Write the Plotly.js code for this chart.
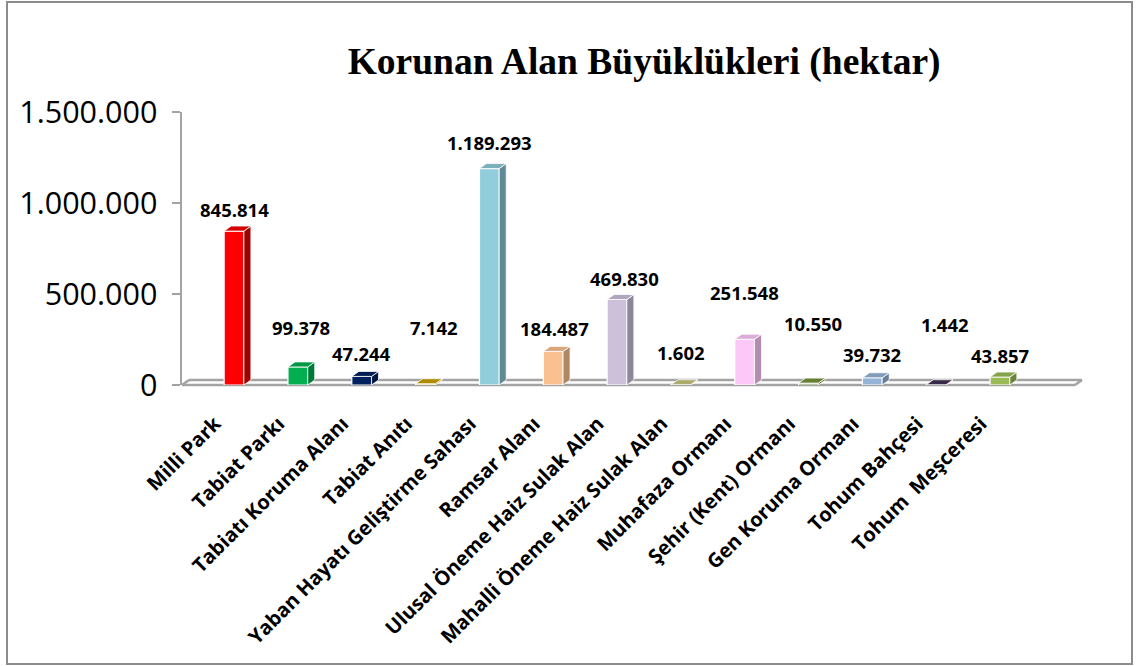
<!DOCTYPE html>
<html>
<head>
<meta charset="utf-8">
<script src="https://cdn.plot.ly/plotly-3.0.1.min.js"></script>
<style>
  html, body { margin: 0; padding: 0; background: #ffffff; }
  #wrap { position: relative; width: 1139px; height: 666px; }
  #chart { width: 1139px; height: 666px; }
  #frame { position: absolute; left: 6px; top: 1px; width: 1123px; height: 660px;
           border: 2px solid #8c8c8c; pointer-events: none; }
</style>
</head>
<body>
<div id="wrap"><div id="chart"></div><div id="frame"></div></div>
<script>
const categories = ["Milli Park", "Tabiat Parkı", "Tabiatı Koruma Alanı", "Tabiat Anıtı",
  "Yaban Hayatı Geliştirme Sahası", "Ramsar Alanı", "Ulusal Öneme Haiz Sulak Alan",
  "Mahalli Öneme Haiz Sulak Alan", "Muhafaza Ormanı", "Şehir (Kent) Ormanı",
  "Gen Koruma Ormanı", "Tohum Bahçesi", "Tohum  Meşceresi"];
const values = [845814, 99378, 47244, 7142, 1189293, 184487, 469830, 1602, 251548, 10550, 39732, 1442, 43857];
const yTickValues = [0, 500000, 1000000, 1500000];

// styles
const frontColors = ["#ff0000", "#00b050", "#002060", "#c9a200", "#92cddc", "#fac090", "#ccc0da",
  "#c6c77c", "#fcc8f7", "#77933c", "#95b3d7", "#403151", "#9bbb59"];
const sideColors = ["#a00000", "#007a37", "#001540", "#8c7000", "#5f8a95", "#b08763", "#8e8699",
  "#8a8b57", "#b38caf", "#536728", "#687d96", "#2c2238", "#6c833e"];
const labelYShift = [22, 39, 23, 56, 26, 23, 21, 32, 47, 60, 23, 60, 22];
const labelXShift = [0, 3, 0, 8, 0, 1, 7, 0, 0, 5, 0, 9, 0];

const xRange = [-0.815, 13.285];
const yRange = [0, 1500000];
const plotW = 900, plotH = 273;
const barW = 0.31;
const dxU = 7 * (xRange[1] - xRange[0]) / plotW;     // depth in x units
const dyV = 5 * (yRange[1] - yRange[0]) / plotH;     // depth in y units

function fmt(v) {
  return String(Math.round(v)).replace(/\B(?=(\d{3})+(?!\d))/g, ".");
}
function hex2rgb(h) { return [1,3,5].map(i => parseInt(h.substr(i,2),16)); }
function mix(a, b, t) {
  const A = hex2rgb(a), B = hex2rgb(b);
  return "rgb(" + A.map((c,i) => Math.round(c*(1-t) + B[i]*t)).join(",") + ")";
}

const xs = categories.map((c, i) => i);
const traces = [];

// front faces
traces.push({
  type: "bar", x: xs, y: values, width: barW,
  marker: { color: frontColors, line: { color: "#ffffff", width: 1.2 } },
  hoverinfo: "skip", showlegend: false
});

// side and top faces (3D effect)
values.forEach((v, i) => {
  const xl = i - barW / 2, xr = i + barW / 2;
  traces.push({
    type: "scatter", mode: "lines", fill: "toself",
    x: [xr, xr + dxU, xr + dxU, xr, xr],
    y: [0, dyV, v + dyV, v, 0],
    fillcolor: sideColors[i], line: { color: "#ffffff", width: 0.8 },
    hoverinfo: "skip", showlegend: false
  });
  traces.push({
    type: "scatter", mode: "lines", fill: "toself",
    x: [xl, xr, xr + dxU, xl + dxU, xl],
    y: [v, v, v + dyV, v + dyV, v],
    fillcolor: mix(frontColors[i], sideColors[i], 0.45), line: { color: "#ffffff", width: 0.8 },
    hoverinfo: "skip", showlegend: false
  });
});

const annotations = values.map((v, i) => ({
  x: i, y: v, xref: "x", yref: "y", text: fmt(v), showarrow: false,
  yanchor: "middle", xanchor: "center", yshift: labelYShift[i], xshift: labelXShift[i],
  font: { family: "Open Sans", size: 18.5, color: "#000000", weight: "bold" }
}));

const floorColor = "#a3a3a3";
const fx = 7 / plotW, fy = 5 / plotH;
const shapes = [
  { type: "line", xref: "paper", yref: "paper", x0: 0, y0: 0, x1: 1 - fx, y1: 0, layer: "below",
    line: { color: floorColor, width: 2.5 } },
  { type: "line", xref: "paper", yref: "paper", x0: fx, y0: fy, x1: 1, y1: fy, layer: "below",
    line: { color: floorColor, width: 2.5 } },
  { type: "line", xref: "paper", yref: "paper", x0: 1 - fx, y0: 0, x1: 1, y1: fy, layer: "below",
    line: { color: floorColor, width: 2.5 } },
  { type: "line", xref: "paper", yref: "paper", x0: 0, y0: 0, x1: fx, y1: fy, layer: "below",
    line: { color: floorColor, width: 2.5 } }
];

const layout = {
  width: 1139, height: 666,
  margin: { l: 182, r: 57, t: 112, b: 281 },
  paper_bgcolor: "#ffffff", plot_bgcolor: "rgba(0,0,0,0)",
  separators: ",.",
  showlegend: false,
  title: {
    text: "<b>Korunan Alan Büyüklükleri (hektar)</b>",
    font: { family: "Liberation Serif, Times New Roman, serif", size: 37.5, color: "#000000" },
    xref: "container", yref: "container", x: 0.5655, y: 0.908, xanchor: "center", yanchor: "middle"
  },
  xaxis: {
    type: "linear", range: xRange, tickmode: "array", tickvals: xs, ticktext: categories,
    tickangle: -45, showgrid: false, zeroline: false, showline: false, ticks: "",
    ticklabelstandoff: 22, ticklabelshift: -19,
    tickfont: { family: "Open Sans", size: 20, color: "#000000", weight: "bold" },
    fixedrange: true
  },
  yaxis: {
    range: yRange, tickmode: "array", tickvals: yTickValues, tickformat: ",d",
    showgrid: false, zeroline: false, showline: true, linecolor: floorColor, linewidth: 2.5,
    ticks: "outside", ticklen: 8, tickcolor: floorColor, tickwidth: 2,
    ticklabelstandoff: 8,
    tickfont: { family: "Open Sans", size: 30.5, color: "#000000" },
    fixedrange: true
  },
  shapes: shapes,
  annotations: annotations
};

Plotly.newPlot("chart", traces, layout, { displayModeBar: false, staticPlot: true });
</script>
</body>
</html>
